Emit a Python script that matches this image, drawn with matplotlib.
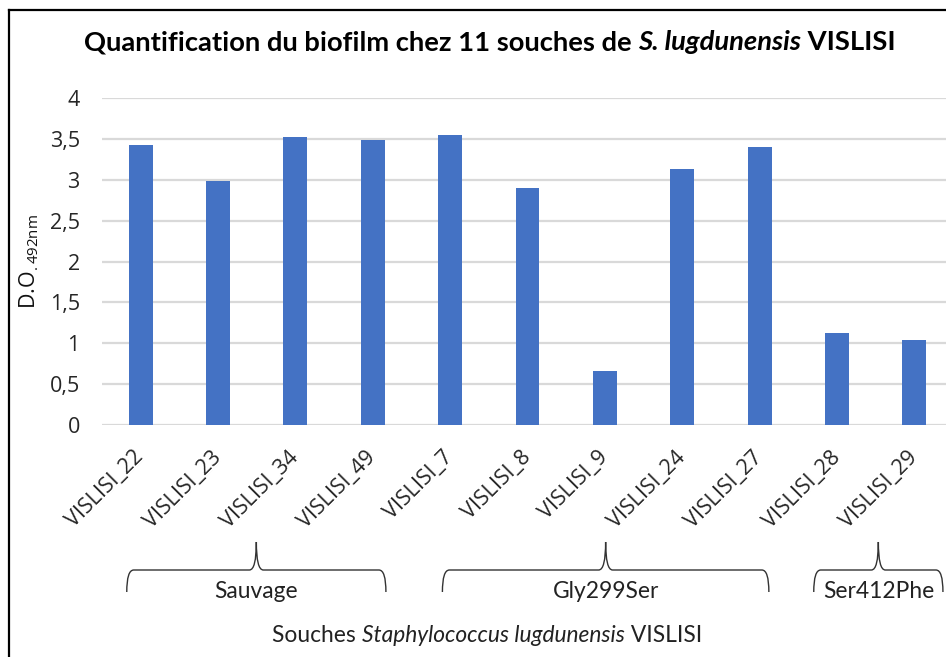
import matplotlib.pyplot as plt
from matplotlib.path import Path
from matplotlib.patches import PathPatch
from matplotlib.lines import Line2D
from matplotlib.transforms import blended_transform_factory

# D.O. at 492 nm for each strain
souches = ['VISLISI_22', 'VISLISI_23', 'VISLISI_34', 'VISLISI_49', 'VISLISI_7',
           'VISLISI_8', 'VISLISI_9', 'VISLISI_24', 'VISLISI_27', 'VISLISI_28',
           'VISLISI_29']
do_492 = [3.43, 2.99, 3.52, 3.49, 3.55, 2.90, 0.66, 3.13, 3.40, 1.12, 1.04]

# genotype groups (first index, last index)
groupes = ['Sauvage', 'Gly299Ser', 'Ser412Phe']
debut = [0, 4, 9]
fin = [3, 8, 10]

yticks = [0, 0.5, 1, 1.5, 2, 2.5, 3, 3.5, 4]
ylabels = ['0', '0,5', '1', '1,5', '2', '2,5', '3', '3,5', '4']

W, H = 946, 657
fig = plt.figure(figsize=(W / 100, H / 100), dpi=100)
ax = fig.add_axes([102 / W, (H - 425) / H, (953 - 102) / W, 327 / H])


def rich_text(xc, y, parts, **kw):
    # place several text pieces side by side, centred on xc (figure fraction)
    r = fig.canvas.get_renderer()
    arts = []
    for txt, style in parts:
        t = fig.text(0, y, txt, va='center', ha='left', style=style, **kw)
        arts.append(t)
    widths = [a.get_window_extent(r).width / W for a in arts]
    xpos = xc - sum(widths) / 2
    for a, w in zip(arts, widths):
        a.set_x(xpos)
        xpos += w


x = range(len(souches))
ax.bar(x, do_492, width=0.31, color='#4472C4', zorder=3)
ax.set_xlim(-0.5, len(souches) - 0.5)
ax.set_ylim(0, 4)
ax.set_yticks(yticks)
ax.set_yticklabels(ylabels, fontsize=15.5, color='#262626', fontfamily='Open Sans')
ax.set_xticks(list(x))
ax.set_xticklabels(souches, rotation=45, ha='right', va='center',
                   rotation_mode='anchor', fontsize=15.5, color='#262626',
                   fontfamily='Open Sans')
ax.tick_params(axis='y', length=0, pad=16)
ax.tick_params(axis='x', length=0, pad=21)
ax.yaxis.grid(True, color='#d9d9d9', linewidth=1.6, zorder=0)
for s in ax.spines.values():
    s.set_visible(False)
ax.set_ylabel(r'D.O$_{\mathregular{.492nm}}$', fontsize=15.5, fontfamily='Open Sans',
              color='#111111', labelpad=6)

rich_text(0.5 + 17 / W, 1 - 42 / H,
          [('Quantification du biofilm chez 11 souches de ', 'normal'),
           ('S. lugdunensis', 'italic'), (' VISLISI', 'normal')],
          fontsize=19.7, fontweight='bold', fontfamily='Lato', color='black')

# braces under the tick labels
tr = blended_transform_factory(ax.transData, fig.transFigure)
y_bas = (H - 592) / H
y_h = (H - 570) / H
y_pic = (H - 542) / H
marges = [(0.18, 0.17), (0.1, 0.12), (0.3, 0.37)]
for nom, i0, i1, (m0, m1) in zip(groupes, debut, fin, marges):
    x0 = i0 - m0
    x1 = i1 + m1
    xc = (x0 + x1) / 2
    r = 0.09
    verts = [(x0, y_bas), (x0, y_h), (x0 + r, y_h),
             (xc - r, y_h), (xc, y_h), (xc, y_pic),
             (xc, y_h), (xc + r, y_h),
             (x1 - r, y_h), (x1, y_h), (x1, y_bas)]
    codes = [Path.MOVETO, Path.CURVE3, Path.CURVE3,
             Path.LINETO, Path.CURVE3, Path.CURVE3,
             Path.CURVE3, Path.CURVE3,
             Path.LINETO, Path.CURVE3, Path.CURVE3]
    ax.add_patch(PathPatch(Path(verts, codes), transform=tr, fill=False,
                           edgecolor='#333333', linewidth=1.0, clip_on=False))
    ax.text(xc, (H - 592) / H, nom, transform=tr, ha='center', va='center',
            fontsize=16.4, fontfamily='Lato', color='#222222')

rich_text(487 / W, 1 - 636 / H,
          [('Souches ', 'normal'), ('Staphylococcus lugdunensis', 'italic'),
           (' VISLISI', 'normal')],
          fontsize=16.4, fontfamily='Lato', color='#222222')

# chart border
fig.add_artist(Line2D([9 / W, 9 / W], [0, 1 - 10 / H], transform=fig.transFigure,
                      color='black', linewidth=1.6))
fig.add_artist(Line2D([9 / W, 1], [1 - 10 / H, 1 - 10 / H], transform=fig.transFigure,
                      color='black', linewidth=1.6))

fig.savefig('out.png', dpi=100)
